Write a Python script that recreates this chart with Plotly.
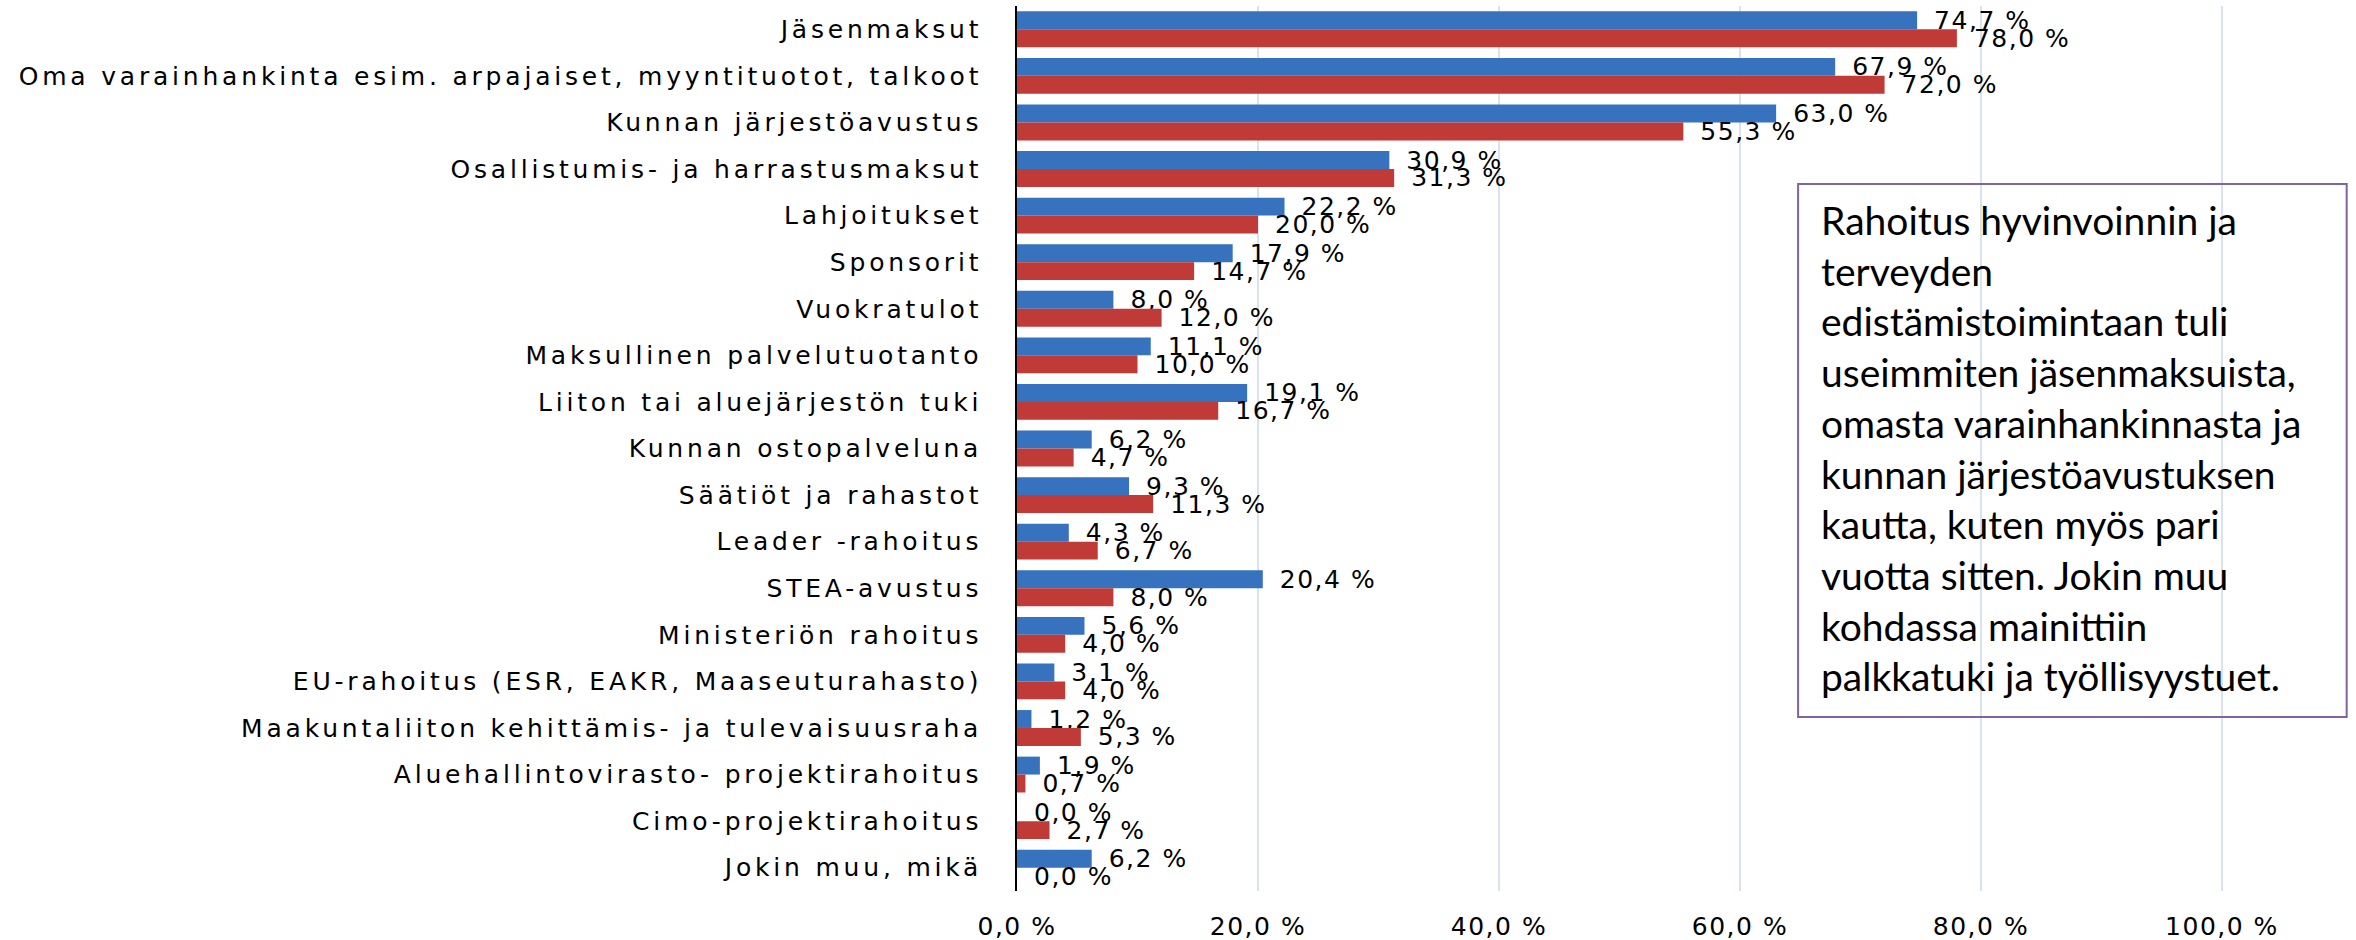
import plotly.graph_objects as go

categories = [
    "Jäsenmaksut",
    "Oma varainhankinta esim. arpajaiset, myyntituotot, talkoot",
    "Kunnan järjestöavustus",
    "Osallistumis- ja harrastusmaksut",
    "Lahjoitukset",
    "Sponsorit",
    "Vuokratulot",
    "Maksullinen palvelutuotanto",
    "Liiton tai aluejärjestön tuki",
    "Kunnan ostopalveluna",
    "Säätiöt ja rahastot",
    "Leader -rahoitus",
    "STEA-avustus",
    "Ministeriön rahoitus",
    "EU-rahoitus (ESR, EAKR, Maaseuturahasto)",
    "Maakuntaliiton kehittämis- ja tulevaisuusraha",
    "Aluehallintovirasto- projektirahoitus",
    "Cimo-projektirahoitus",
    "Jokin muu, mikä",
]
series_blue = [74.7, 67.9, 63.0, 30.9, 22.2, 17.9, 8.0, 11.1, 19.1, 6.2,
               9.3, 4.3, 20.4, 5.6, 3.1, 1.2, 1.9, 0.0, 6.2]
series_red = [78.0, 72.0, 55.3, 31.3, 20.0, 14.7, 12.0, 10.0, 16.7, 4.7,
              11.3, 6.7, 8.0, 4.0, 4.0, 5.3, 0.7, 2.7, 0.0]
x_ticks = [0, 20, 40, 60, 80, 100]
x_tick_labels = ["0,0 %", "20,0 %", "40,0 %", "60,0 %", "80,0 %", "100,0 %"]
note_lines = [
    "Rahoitus hyvinvoinnin ja",
    "terveyden",
    "edistämistoimintaan tuli",
    "useimmiten jäsenmaksuista,",
    "omasta varainhankinnasta ja",
    "kunnan järjestöavustuksen",
    "kautta, kuten myös pari",
    "vuotta sitten. Jokin muu",
    "kohdassa mainittiin",
    "palkkatuki ja työllisyystuet.",
]

FONT = "DejaVu Sans"
LS_CAT = 3.8
LS_NUM = 1.5


def spaced(s, ls):
    return f"<span style='letter-spacing:{ls}px'>{s}</span>"


def pct(v):
    return f"{v:.1f}".replace(".", ",") + " %"


fig = go.Figure()
for name, vals, color in [("Sarja 1", series_blue, "#3772BE"),
                          ("Sarja 2", series_red, "#C03A37")]:
    fig.add_trace(go.Bar(
        y=categories, x=vals, orientation="h", name=name,
        marker=dict(color=color, line=dict(width=0)),
        text=[spaced("\u2002" + pct(v), LS_NUM) for v in vals],
        textposition="outside", constraintext="none", cliponaxis=False,
        textfont=dict(family=FONT, size=25, color="black"),
        hoverinfo="x+y",
    ))

fig.add_shape(type="rect", xref="paper", yref="paper",
              x0=0.645, x1=1.098, y0=0.1966, y1=0.799,
              line=dict(color="#8064A2", width=2), fillcolor="rgba(0,0,0,0)")
fig.add_annotation(xref="paper", yref="paper", x=0.6623, y=0.786,
                   xanchor="left", yanchor="top", align="left", showarrow=False,
                   text="<br>".join(note_lines),
                   font=dict(family="Lato", size=39, color="black"))

fig.update_layout(
    width=2356, height=940,
    margin=dict(l=1017, r=128, t=6, b=49, autoexpand=False),
    paper_bgcolor="white", plot_bgcolor="white",
    barmode="group", bargap=0.23, bargroupgap=0,
    showlegend=False,
    font=dict(family=FONT, size=25, color="black"),
)
fig.update_xaxes(
    range=[0, 100.5], tickvals=x_ticks,
    ticktext=[spaced(t, LS_NUM) for t in x_tick_labels],
    showgrid=True, gridcolor="#D9E3EF", gridwidth=1.5,
    zeroline=False, showline=False, ticks="",
    ticklabelstandoff=18,
    tickfont=dict(family=FONT, size=25, color="black"),
)
fig.update_yaxes(
    autorange="reversed", tickvals=categories,
    ticktext=[spaced(c, LS_CAT) for c in categories],
    showline=True, linecolor="black", linewidth=1.5,
    showgrid=False, ticks="", ticklabelstandoff=28,
    tickfont=dict(family=FONT, size=25, color="black"),
)

fig.write_html("out.html", config={"displayModeBar": False},
               post_script="document.body.style.margin='0';")
